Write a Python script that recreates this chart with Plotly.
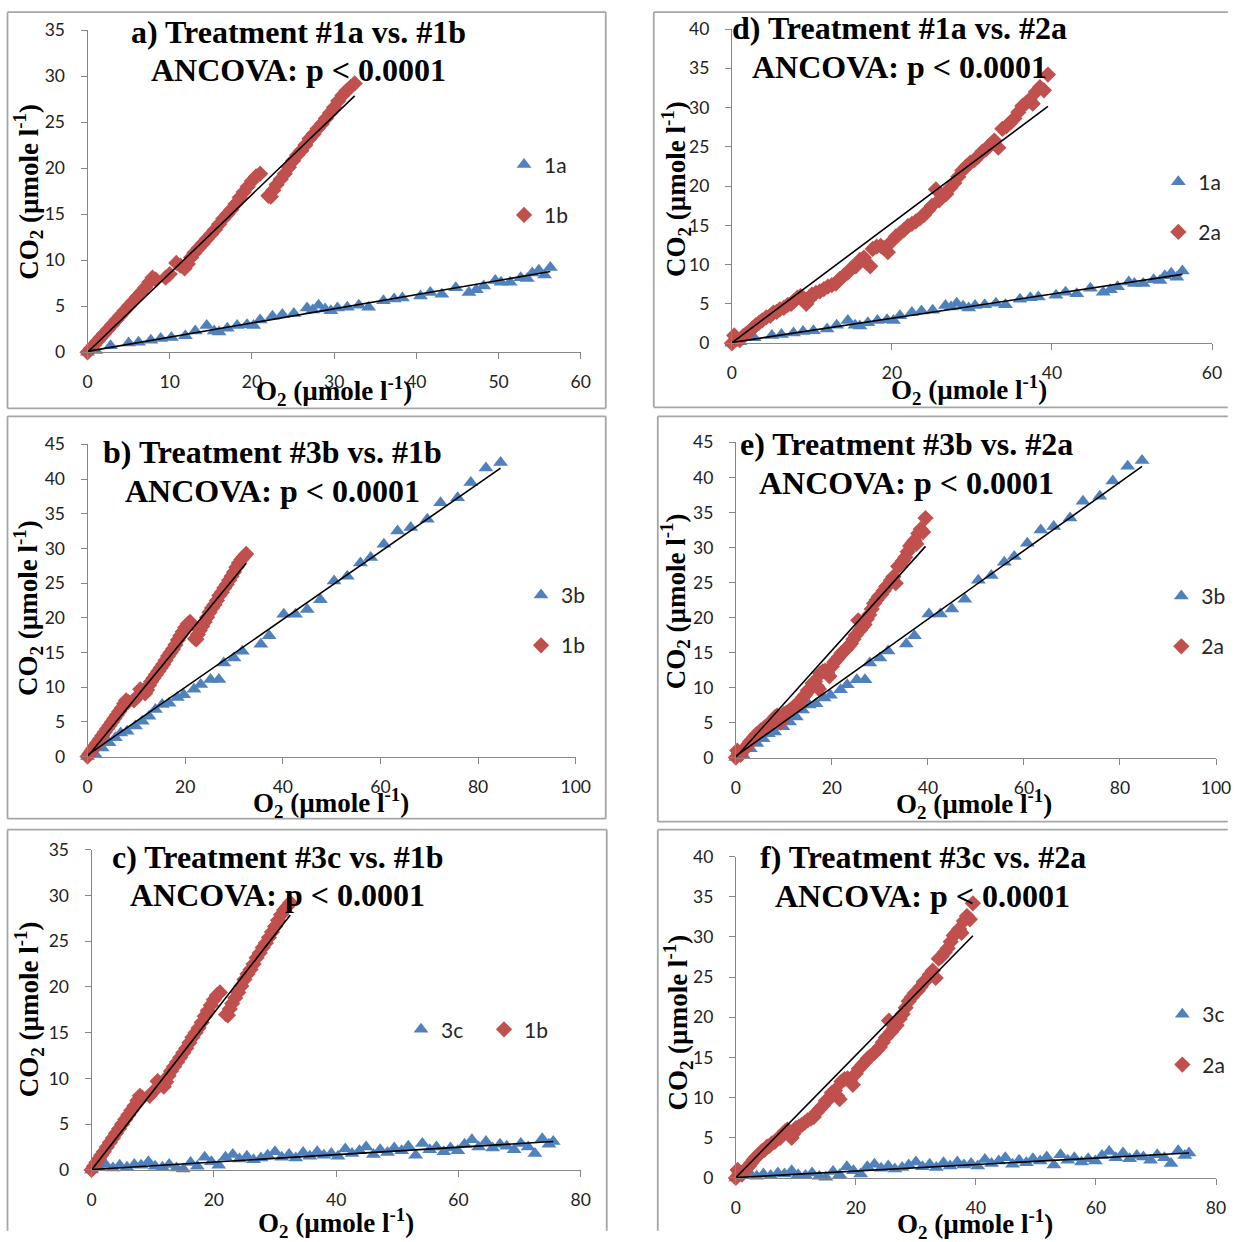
import plotly.graph_objects as go

W, H = 1244, 1242
# layout grid: panel coordinates below are given on a grid that maps to
# figure pixels through this scale and offset
GX, GY = 4.5, 12.0
SX, SY = 0.9835, 0.9823

# ---- measured O2 / CO2 series (µmole l-1) ----
o2_1a = [0.0, 1.0, 2.8, 5.0, 6.2, 7.7, 8.9, 10.2, 11.9, 13.1,
         14.5, 15.4, 16.0, 17.0, 18.2, 19.4, 20.2, 21.0, 22.5, 23.7,
         25.1, 26.7, 27.4, 28.1, 28.9, 29.6, 30.4, 31.6, 33.0, 34.2,
         36.0, 37.3, 38.3, 40.5, 41.7, 43.1, 44.8, 46.4, 47.3, 48.2,
         49.6, 50.3, 51.4, 52.7, 53.5, 54.1, 54.9, 55.6, 56.3]
co2_1a = [0.0, 0.2, 0.7, 1.0, 1.1, 1.3, 1.5, 1.6, 1.8, 2.3,
          2.9, 2.3, 2.2, 2.6, 2.9, 3.0, 2.9, 3.5, 3.9, 4.1,
          4.2, 4.8, 4.6, 5.1, 4.7, 4.5, 4.8, 4.9, 5.1, 4.9,
          5.6, 5.8, 5.9, 6.1, 6.5, 6.3, 7.0, 6.5, 6.8, 7.2,
          7.8, 7.6, 7.6, 8.1, 8.0, 8.6, 8.9, 8.4, 9.2]

o2_1b = [0.0, 0.4, 0.8, 1.2, 1.6, 2.0, 2.5, 3.0, 3.5, 4.0,
         4.5, 5.0, 5.5, 6.0, 6.5, 7.0, 7.5, 7.9, 8.3, 9.5,
         10.0, 10.8, 11.3, 11.8, 12.2, 12.6, 13.0, 13.5, 14.0, 14.5,
         15.0, 15.5, 16.0, 16.5, 17.0, 17.5, 18.0, 18.5, 19.0, 19.5,
         20.0, 20.5, 21.0, 22.0, 22.3, 22.6, 23.0, 23.5, 24.0, 24.5,
         25.0, 25.5, 26.0, 26.5, 27.0, 27.5, 28.0, 28.5, 29.0, 29.5,
         30.0, 30.5, 31.0, 31.5, 32.0, 32.5]
co2_1b = [0.0, 0.4, 0.8, 1.2, 1.6, 2.0, 2.5, 3.0, 3.5, 4.0,
          4.5, 5.0, 5.5, 6.0, 6.5, 7.0, 7.6, 8.1, 7.9, 8.1,
          8.5, 9.7, 9.4, 9.1, 9.6, 10.3, 10.8, 11.3, 11.8, 12.3,
          12.8, 13.3, 13.9, 14.5, 15.0, 15.5, 16.1, 16.8, 17.4, 18.0,
          18.6, 19.1, 19.4, 17.0, 16.9, 17.6, 18.2, 18.8, 19.4, 20.1,
          20.8, 21.4, 21.9, 22.5, 23.2, 23.7, 24.3, 24.8, 25.4, 26.0,
          26.6, 27.3, 27.9, 28.4, 28.8, 29.2]

o2_2a = [0.0, 0.3, 0.6, 1.0, 1.4, 1.8, 2.2, 2.6, 3.0, 3.4,
         3.8, 4.3, 4.8, 5.2, 5.6, 6.0, 6.5, 7.0, 7.4, 7.8,
         8.2, 8.6, 9.0, 9.3, 9.6, 10.0, 10.5, 11.0, 11.5, 12.0,
         12.5, 13.0, 13.5, 14.0, 14.5, 15.0, 15.5, 16.0, 16.5, 16.9,
         17.3, 17.6, 18.1, 18.6, 19.0, 19.5, 20.0, 20.5, 21.0, 21.5,
         22.0, 22.5, 23.0, 23.5, 24.0, 24.5, 25.0, 25.5, 25.9, 26.3,
         26.8, 27.3, 27.8, 28.3, 28.8, 29.3, 29.8, 30.3, 30.8, 31.3,
         31.8, 32.3, 32.8, 33.3, 33.8, 34.3, 34.8, 35.3, 35.8, 36.3,
         36.8, 37.2, 37.6, 38.0, 38.5, 39.0, 39.5]
co2_2a = [0.0, 1.0, 0.6, 0.4, 0.9, 1.2, 1.5, 1.9, 2.3, 2.6,
          2.9, 3.3, 3.5, 3.9, 4.0, 4.3, 4.5, 4.9, 5.0, 5.4,
          5.8, 6.0, 5.7, 5.0, 5.5, 6.2, 6.4, 6.6, 6.9, 7.2,
          7.4, 7.6, 8.2, 8.6, 9.0, 9.6, 9.8, 10.6, 10.9, 10.2,
          9.8, 12.0, 12.3, 12.4, 12.1, 11.6, 13.0, 13.6, 14.0, 14.4,
          14.9, 15.2, 15.5, 15.9, 16.3, 16.9, 17.5, 19.6, 18.2, 18.6,
          19.0, 19.8, 20.4, 21.2, 22.0, 22.5, 23.0, 23.3, 23.8, 24.4,
          24.7, 25.3, 25.8, 24.9, 27.3, 27.6, 28.1, 28.6, 29.4, 30.2,
          30.6, 31.0, 30.5, 32.0, 32.6, 32.2, 34.2]

o2_3b = [0.0, 1.6, 3.0, 4.4, 5.7, 6.8, 8.1, 9.8, 11.2, 12.6,
         13.9, 15.3, 16.7, 18.4, 19.7, 21.8, 23.2, 25.2, 26.9, 27.9,
         30.0, 31.7, 35.5, 37.2, 40.2, 42.6, 45.0, 47.7, 50.5, 53.2,
         55.9, 58.0, 60.7, 63.5, 66.2, 69.6, 72.3, 75.8, 78.5, 81.6,
         84.6]
co2_3b = [0.0, 0.3, 1.25, 2.0, 2.7, 3.4, 3.65, 4.4, 5.1, 5.8,
          6.8, 7.5, 7.7, 8.5, 8.9, 9.7, 10.4, 11.1, 11.1, 13.5,
          14.2, 15.2, 16.2, 17.4, 20.5, 20.5, 21.2, 22.6, 25.3, 26.0,
          27.9, 28.7, 30.6, 32.5, 33.0, 34.2, 36.6, 37.3, 39.5, 41.6,
          42.4]

o2_3c = [0.0, 1.2, 2.3, 3.5, 4.6, 5.8, 7.0, 8.1, 9.3, 10.4,
         11.6, 12.7, 13.9, 15.0, 16.2, 17.3, 18.5, 19.6, 20.8, 21.9,
         23.1, 24.2, 25.4, 26.5, 27.7, 28.8, 30.0, 31.1, 32.3, 33.4,
         34.6, 35.7, 36.9, 38.0, 39.2, 40.3, 41.5, 42.6, 43.8, 44.9,
         46.1, 47.2, 48.4, 49.5, 50.7, 51.8, 53.0, 54.1, 55.3, 56.4,
         57.6, 58.7, 59.9, 61.0, 62.2, 63.3, 64.5, 65.6, 66.8, 67.9,
         69.1, 70.2, 71.4, 72.5, 73.7, 74.8, 75.5]
co2_3c = [0.0, 0.3, 0.6, 0.2, 0.5, 0.3, 0.6, 0.5, 0.9, 0.4,
          0.3, 0.6, 0.2, 0.1, 0.8, 0.4, 1.4, 0.9, 0.5, 1.4,
          1.7, 1.2, 1.5, 1.1, 1.3, 1.6, 2.0, 1.4, 1.7, 1.3,
          1.9, 1.5, 2.0, 1.6, 1.8, 1.5, 2.3, 1.8, 2.1, 2.5,
          1.7, 2.2, 1.9, 2.4, 2.1, 2.6, 1.6, 2.9, 2.2, 2.5,
          2.0, 2.4, 2.1, 2.8, 3.3, 2.5, 3.1, 2.4, 2.8, 2.6,
          2.2, 2.9, 2.5, 1.8, 3.4, 2.8, 3.1]

# linear regression fits: CO2 = slope * O2 + intercept
fit_slope = {"1a": 0.154, "1b": 0.857, "2a": 0.762, "3b": 0.489, "3c": 0.0405}
fit_intercept = {"1a": 0.1, "1b": 0.0, "2a": 0.05, "3b": 0.2, "3c": 0.05}

series = {
    "1a": (o2_1a, co2_1a),
    "1b": (o2_1b, co2_1b),
    "2a": (o2_2a, co2_2a),
    "3b": (o2_3b, co2_3b),
    "3c": (o2_3c, co2_3c),
}

BLUE, RED = "#4f81bd", "#c0504d"
style = {
    "1a": ("triangle-up", BLUE, 13), "3b": ("triangle-up", BLUE, 13),
    "3c": ("triangle-up", BLUE, 13),
    "1b": ("diamond", RED, 12.5), "2a": ("diamond", RED, 12.5),
}

# panel layout on the grid: plot box (x0, x1, ytop, ybottom), outer frame
# (x0, y0, x1, y1, which sides are drawn), title centre / line rows,
# axis-title centres and legend anchor
panels = [
    dict(title="a) Treatment #1a vs. #1b", keys=["1a", "1b"], xmax=60, dx=10, ymax=35, dy=5,
         box=(87, 580, 31, 353), frame=(7, 7, 605, 409, "LTRB"), tc=298, ty=(33, 71),
         ytit=(28, 193), xtit=(333, 392), leg=(523, 165), horiz=False),
    dict(title="d) Treatment #1a vs. #2a", keys=["1a", "2a"], xmax=60, dx=20, ymax=40, dy=5,
         box=(731, 1211, 30, 344), frame=(653, 3, 1244, 408, "LTB"), tc=899, ty=(29, 68),
         ytit=(675, 190), xtit=(968, 391), leg=(1177, 182), horiz=False),
    dict(title="b) Treatment #3b vs. #1b", keys=["3b", "1b"], xmax=100, dx=20, ymax=45, dy=5,
         box=(87, 575, 445, 757), frame=(7, 417, 605, 819, "LTRB"), tc=272, ty=(453, 492),
         ytit=(28, 609), xtit=(330, 803), leg=(540, 595), horiz=False),
    dict(title="e) Treatment #3b vs. #2a", keys=["3b", "2a"], xmax=100, dx=20, ymax=45, dy=5,
         box=(735, 1215, 443, 758), frame=(657, 417, 1244, 822, "LTB"), tc=906, ty=(445, 484),
         ytit=(675, 602), xtit=(973, 804), leg=(1180, 596), horiz=False),
    dict(title="c) Treatment #3c vs. #1b", keys=["3c", "1b"], xmax=80, dx=20, ymax=35, dy=5,
         box=(91, 580, 850, 1170), frame=(7, 830, 606, 1242, "LTR"), tc=277, ty=(857, 895),
         ytit=(28, 1010), xtit=(335, 1223), leg=(420, 1029), horiz=True),
    dict(title="f) Treatment #3c vs. #2a", keys=["3c", "2a"], xmax=80, dx=20, ymax=40, dy=5,
         box=(735, 1215, 857, 1178), frame=(657, 830, 1244, 1242, "LT"), tc=922, ty=(857, 896),
         ytit=(677, 1023), xtit=(974, 1224), leg=(1181, 1014), horiz=False),
]


def gx(x):
    """grid x -> figure pixel"""
    return (x - GX) / SX


def gy(y):
    """grid y -> figure pixel (from top)"""
    return (y - GY) / SY


def px(x):
    return min(max(gx(x) / W, 0.001), 0.999)


def py(y):
    return min(max(1 - gy(y) / H, 0.001), 0.999)


AXIS_GREY = "#868686"
FRAME_GREY = "#a6a6a6"
TICK_FONT = dict(family="Lato", size=17.5, color="#222222")
SERIF_BOLD = dict(family="Liberation Serif", size=32, color="black", weight="bold")
AXT_FONT = dict(family="Liberation Serif", size=27, color="black", weight="bold")
LEG_FONT = dict(family="Lato", size=21, color="#262626")

fig = go.Figure()
layout = dict(width=W, height=H, margin=dict(l=0, r=0, t=0, b=0),
              paper_bgcolor="white", plot_bgcolor="white", showlegend=True)
annotations, shapes = [], []


def frame_sides(x0, y0, x1, y1, sides):
    """Grey panel border; sides that run off the canvas are left out."""
    segs = {"L": (x0, y0, x0, y1), "T": (x0, y0, x1, y0),
            "R": (x1, y0, x1, y1), "B": (x0, y1, x1, y1)}
    out = []
    for s in sides:
        a, b, c, d = segs[s]
        out.append(dict(type="line", xref="paper", yref="paper",
                        x0=px(a), y0=py(b), x1=px(c), y1=py(d),
                        line=dict(color=FRAME_GREY, width=1.8)))
    return out


for i, p in enumerate(panels, start=1):
    xa = "x" if i == 1 else f"x{i}"
    ya = "y" if i == 1 else f"y{i}"
    leg = "legend" if i == 1 else f"legend{i}"
    x0, x1, yt, yb = p["box"]

    common = dict(showgrid=False, zeroline=False, showline=True, linecolor=AXIS_GREY,
                  linewidth=1, ticks="outside", ticklen=6, tickcolor=AXIS_GREY,
                  tickfont=TICK_FONT, fixedrange=True)
    layout["xaxis" if i == 1 else f"xaxis{i}"] = dict(
        common, domain=[px(x0), px(x1)], range=[0, p["xmax"]], dtick=p["dx"], tick0=0,
        anchor=ya, ticklabelstandoff=8)
    layout["yaxis" if i == 1 else f"yaxis{i}"] = dict(
        common, domain=[py(yb), py(yt)], range=[0, p["ymax"]], dtick=p["dy"], tick0=0,
        anchor=xa, ticklabelstandoff=12)

    # observations
    for k in p["keys"]:
        sym, col, size = style[k]
        xs, ys = series[k]
        fig.add_trace(go.Scatter(
            x=xs, y=ys, mode="markers", name=k, xaxis=xa, yaxis=ya, legend=leg,
            legendgroup=f"{i}-{k}", cliponaxis=False,
            marker=dict(symbol=sym, color=col, size=size, line=dict(width=0))))
    # fitted regression lines, drawn over the points
    for k in p["keys"]:
        xs, _ = series[k]
        lx = [min(xs), max(xs)]
        ly = [fit_slope[k] * v + fit_intercept[k] for v in lx]
        fig.add_trace(go.Scatter(
            x=lx, y=ly, mode="lines", xaxis=xa, yaxis=ya, showlegend=False,
            cliponaxis=False, line=dict(color="black", width=1.6), hoverinfo="skip"))

    # legend box: first symbol sits 20 px right of / below the box corner
    lx_, ly_ = p["leg"]
    lgx = (gx(lx_) - 20) / W
    lgy = 1 - (gy(ly_) - 20) / H
    if p["horiz"]:
        layout[leg] = dict(x=lgx, y=lgy, xanchor="left", yanchor="top",
                           orientation="h", font=LEG_FONT,
                           bgcolor="rgba(0,0,0,0)", tracegroupgap=0,
                           entrywidth=38, entrywidthmode="pixels")
    else:
        layout[leg] = dict(x=lgx, y=lgy, xanchor="left", yanchor="top",
                           orientation="v", font=LEG_FONT,
                           bgcolor="rgba(0,0,0,0)", tracegroupgap=20)

    shapes.extend(frame_sides(*p["frame"]))

    # two-line bold heading
    annotations.append(dict(text=p["title"], x=px(p["tc"]), y=py(p["ty"][0]),
                            xref="paper", yref="paper", showarrow=False,
                            xanchor="center", yanchor="middle", font=SERIF_BOLD))
    annotations.append(dict(text="ANCOVA: p &lt; 0.0001", x=px(p["tc"]), y=py(p["ty"][1]),
                            xref="paper", yref="paper", showarrow=False,
                            xanchor="center", yanchor="middle", font=SERIF_BOLD))
    # axis titles
    annotations.append(dict(text="CO<sub>2</sub> (µmole l<sup>-1</sup>)",
                            x=px(p["ytit"][0]), y=py(p["ytit"][1]), textangle=-90,
                            xref="paper", yref="paper", showarrow=False,
                            xanchor="center", yanchor="middle", font=AXT_FONT))
    annotations.append(dict(text="O<sub>2</sub> (µmole l<sup>-1</sup>)",
                            x=px(p["xtit"][0]), y=py(p["xtit"][1]),
                            xref="paper", yref="paper", showarrow=False,
                            xanchor="center", yanchor="middle", font=AXT_FONT))

layout["annotations"] = annotations
layout["shapes"] = shapes
fig.update_layout(**layout)
fig.write_html("out.html")
